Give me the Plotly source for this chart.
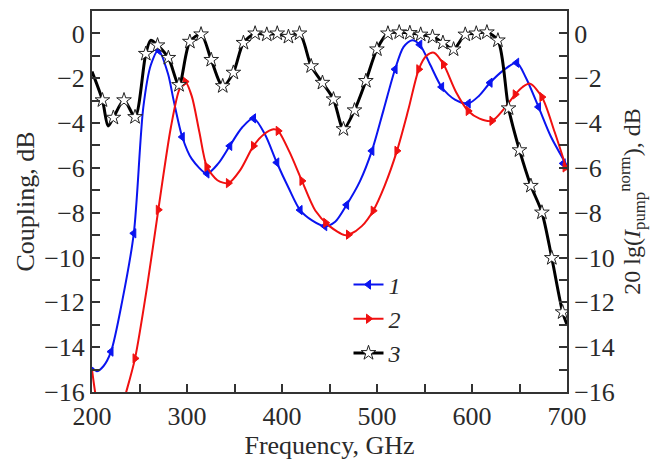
import plotly.graph_objects as go

# ---- curve 1 (blue, coupling) ----
f1 = [200, 205, 212, 220, 232, 244, 254, 262, 270, 280, 286, 295, 305, 321, 333, 345, 358, 370, 382,
      394.5, 407, 419, 432, 445, 456, 468, 482, 494.6, 507, 519, 528, 537, 545, 556, 568, 582, 596,
      607, 619, 633, 647, 657, 670, 683, 700]
c1 = [-14.9, -15.07, -14.85, -14.2, -11.9, -8.92, -3.3, -1.4, -0.75, -1.8, -3.0, -4.62, -5.6, -6.25,
      -5.8, -5.02, -4.2, -3.79, -4.5, -5.76, -6.9, -7.88, -8.35, -8.6, -8.4, -7.65, -6.6, -5.24, -3.4,
      -1.6, -0.6, -0.3, -0.5, -1.4, -2.39, -2.95, -3.13, -2.8, -2.2, -1.65, -1.31, -2.0, -3.28, -4.6, -5.9]
m1_f = [220, 244, 270, 295, 321, 345, 370, 394.5, 419, 445, 468, 494.6, 519, 545, 568, 596, 619, 647, 670, 696]
m1_c = [-14.2, -8.92, -0.75, -4.62, -6.25, -5.02, -3.79, -5.76, -7.88, -8.6, -7.65, -5.24, -1.6, -0.5,
        -2.39, -3.13, -2.2, -1.31, -3.28, -5.8]

# ---- curve 2 (red, coupling) ----
f2 = [200, 204, 210, 222, 236, 245.3, 258, 269.8, 283, 292, 298, 305, 313, 321, 332, 343.6, 356, 370,
      381, 391, 396, 408, 421, 435, 450, 466, 472, 484, 496, 508, 521, 533, 544, 552, 560, 570, 583,
      596, 608, 621, 633, 645.5, 653, 661, 673.6, 687, 700]
c2 = [-15.0, -16.2, -17.5, -18.0, -16.0, -14.5, -11.3, -7.87, -4.2, -2.5, -2.15, -2.8, -4.4, -5.95,
      -6.55, -6.68, -6.1, -5.02, -4.5, -4.28, -4.35, -5.3, -6.58, -7.9, -8.6, -9.0, -8.95, -8.6, -7.91,
      -6.8, -5.24, -3.4, -1.6, -1.0, -0.86, -1.38, -2.6, -3.46, -3.8, -3.9, -3.4, -2.72, -2.4, -2.24,
      -2.84, -4.4, -6.1]
m2_f = [245.3, 269.8, 298, 321, 343.6, 370, 396, 421, 446, 470, 496, 521, 544, 570, 596, 621, 645.5, 673.6, 698]
m2_c = [-14.5, -7.87, -2.15, -5.95, -6.68, -5.02, -4.35, -6.58, -8.45, -8.98, -7.91, -5.24, -1.6, -1.38,
        -3.46, -3.9, -2.72, -2.84, -5.98]

# ---- curve 3 (black, normalized pump intensity) ----
f3 = [200, 211, 217, 222.5, 233.7, 245.3, 256.6, 261.8, 269, 280.4, 291.6, 303, 314.8, 325.5, 337.6,
      348.8, 359.4, 371.7, 384, 395, 406.8, 418.4, 430.7, 442.6, 454.2, 464.7, 476.3, 488.3, 499.9,
      511.5, 523.4, 534.6, 546, 558.4, 569.4, 580.6, 592.9, 604.5, 615.7, 627.3, 638.5, 650, 662,
      673.6, 684, 695.4, 700]
c3 = [-1.7, -2.98, -4.13, -3.76, -2.98, -3.73, -0.91, -0.31, -0.53, -1.09, -2.3, -0.37, -0.04, -1.18,
      -2.35, -1.75, -0.42, 0.0, -0.05, 0.0, -0.15, 0.0, -1.46, -2.2, -2.94, -4.27, -3.43, -2.12, -0.71,
      0.0, 0.05, 0.02, -0.05, -0.15, -0.42, -0.71, -0.05, 0.0, 0.05, -0.31, -3.34, -5.21, -6.8, -7.99,
      -10.02, -12.44, -13.0]
m3_f = [211, 222.5, 233.7, 245.3, 256.6, 269, 280.4, 291.6, 303, 314.8, 325.5, 337.6, 348.8, 359.4,
        371.7, 384, 395, 406.8, 418.4, 430.7, 442.6, 454.2, 464.7, 476.3, 488.3, 499.9, 511.5, 523.4,
        534.6, 546, 558.4, 569.4, 580.6, 592.9, 604.5, 615.7, 627.3, 638.5, 650, 662, 673.6, 684, 695.4]
m3_c = [-2.98, -3.76, -2.98, -3.73, -0.91, -0.53, -1.09, -2.3, -0.37, -0.04, -1.18, -2.35, -1.75, -0.42,
        0.0, -0.05, 0.0, -0.15, 0.0, -1.46, -2.2, -2.94, -4.27, -3.43, -2.12, -0.71, 0.0, 0.05, 0.02,
        -0.05, -0.15, -0.42, -0.71, -0.05, 0.0, 0.05, -0.31, -3.34, -5.21, -6.8, -7.99, -10.02, -12.44]

x_ticks = [200, 300, 400, 500, 600, 700]
y_ticks = [0, -2, -4, -6, -8, -10, -12, -14, -16]

FONT = "Liberation Serif, Times New Roman, serif"
BLUE = "#0a14f0"
RED = "#f01010"
TXT = "#2a2a2a"
FS = 26

fig = go.Figure()

def add_curve(fx, fy, mx, my, color, sym, name, yaxis, lw, msize, mfill, mline):
    fig.add_trace(go.Scatter(x=fx, y=fy, mode="lines", yaxis=yaxis, showlegend=False,
                             line=dict(color=color, width=lw, shape="spline", smoothing=0.8),
                             hoverinfo="skip"))
    fig.add_trace(go.Scatter(x=mx, y=my, mode="markers", yaxis=yaxis, showlegend=False,
                             marker=dict(symbol=sym, size=msize, color=mfill,
                                         line=dict(color=mline, width=1))))
    fig.add_trace(go.Scatter(x=[None], y=[None], mode="lines+markers", yaxis=yaxis, name=name,
                             line=dict(color=color, width=lw),
                             marker=dict(symbol=sym, size=msize, color=mfill,
                                         line=dict(color=mline, width=1))))

add_curve(f1, c1, m1_f, m1_c, BLUE, "triangle-left", "<i>1</i>", "y", 2, 8, BLUE, BLUE)
add_curve(f2, c2, m2_f, m2_c, RED, "triangle-right", "<i>2</i>", "y", 2, 8, RED, RED)
add_curve(f3, c3, m3_f, m3_c, "black", "star", "<i>3</i>", "y2", 3, 11, "white", "#222")

axis_common = dict(
    showline=True, linewidth=2, linecolor="#333", ticks="inside", ticklen=8, tickwidth=1.5,
    tickcolor="#333", showgrid=False, zeroline=False,
    tickfont=dict(family=FONT, size=FS, color=TXT),
)
minor_y = dict(ticks="inside", dtick=1, tick0=-16, ticklen=8, tickcolor="#333", tickwidth=1.5)

fig.update_layout(
    width=667, height=461,
    margin=dict(l=84, r=108, t=1, b=77),
    paper_bgcolor="white", plot_bgcolor="white",
    font=dict(family=FONT, size=FS, color=TXT),
    xaxis=dict(range=[200, 700], tickvals=x_ticks, mirror=True,
               minor=dict(ticks="inside", dtick=50, tick0=200, ticklen=8, tickcolor="#333", tickwidth=1.5),
               title=dict(text="Frequency, GHz", font=dict(family=FONT, size=FS, color=TXT), standoff=0),
               **axis_common),
    yaxis=dict(range=[-16, 1], tickvals=y_ticks, minor=minor_y,
               title=dict(text="Coupling, dB", font=dict(family=FONT, size=FS, color=TXT), standoff=2),
               **axis_common),
    yaxis2=dict(range=[-16, 1], tickvals=y_ticks, overlaying="y", side="right", minor=minor_y,
                title=dict(text="20 lg(<i>I</i><sub>pump</sub><sup>norm</sup>), dB",
                           font=dict(family=FONT, size=FS - 2, color=TXT), standoff=0),
                **axis_common),
    legend=dict(x=0.54, y=0.34, xanchor="left", yanchor="top", bgcolor="rgba(0,0,0,0)",
                font=dict(family=FONT, size=24, color=TXT), tracegroupgap=0),
)

fig.write_html("out.html")
